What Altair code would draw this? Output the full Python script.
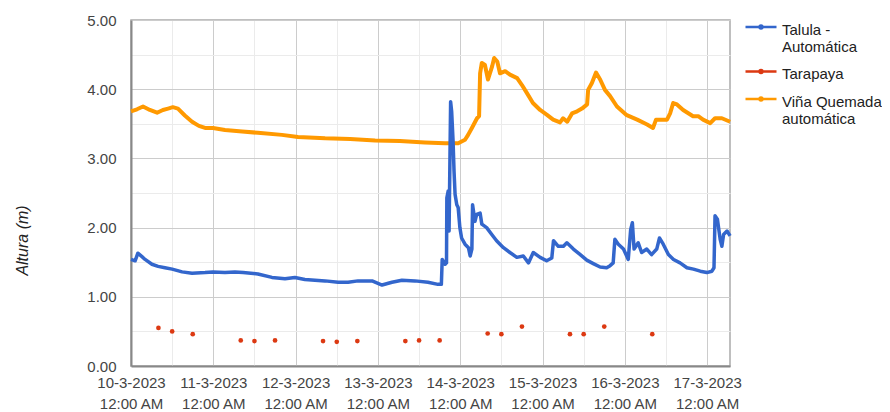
import altair as alt
import pandas as pd

base = pd.Timestamp("2023-03-10 00:00")

series_names = ["Talula - Automática", "Tarapaya", "Viña Quemada automática"]
series_colors = ["#3366cc", "#dc3912", "#ff9900"]

# hours after 10-3-2023 00:00
talula_h = [0, 1.2, 2.0, 3.2, 4.1, 6.1, 7.9, 9.9, 12.0, 14.9,
            17.8, 21.6, 23.9, 27.4, 30.3, 32.7, 37.0, 41.1, 44.9, 47.8,
            50.7, 56.6, 60.4, 63.3, 66.2, 70.3, 73.2, 76.1, 79.0, 82.8,
            86.6, 89.5, 90.5, 90.75, 91.6, 92.0, 92.1, 92.5, 92.75, 93.2,
            93.5, 93.9, 94.2, 94.5, 95.0, 95.4, 95.9, 96.4, 97.4, 98.4,
            98.9, 99.4, 99.6, 100.3, 100.8, 101.8, 102.3, 103.7, 105.2, 106.6,
            108.6, 110.5, 112.5, 114.4, 115.9, 117.3, 119.3, 121.2, 122.7, 123.2,
            124.6, 126.1, 127.1, 129.0, 131.0, 132.9, 134.8, 136.8, 138.7, 139.7,
            140.6, 141.1, 142.1, 143.6, 145.0, 145.7, 146.2, 146.7, 147.9, 148.9,
            150.4, 151.8, 153.3, 154.1, 155.2, 156.7, 158.2, 160.1, 162.1, 164.0,
            166.0, 167.9, 169.4, 170.0, 170.3, 171.0, 171.8, 172.3, 172.8, 173.8, 174.7]
talula_v = [1.54, 1.52, 1.63, 1.58, 1.54, 1.47, 1.44, 1.42, 1.40, 1.36,
            1.34, 1.35, 1.36, 1.35, 1.36, 1.35, 1.33, 1.28, 1.26, 1.28,
            1.25, 1.23, 1.21, 1.21, 1.23, 1.23, 1.17, 1.21, 1.24, 1.23,
            1.21, 1.18, 1.18, 1.54, 1.47, 1.49, 2.43, 2.53, 1.95, 3.82,
            3.68, 3.27, 2.81, 2.48, 2.33, 2.29, 2.00, 1.85, 1.76, 1.71,
            1.59, 1.69, 2.33, 2.09, 2.19, 2.21, 2.05, 2.00, 1.90, 1.81,
            1.71, 1.64, 1.57, 1.59, 1.49, 1.64, 1.57, 1.52, 1.56, 1.81,
            1.73, 1.73, 1.78, 1.69, 1.61, 1.53, 1.48, 1.43, 1.42, 1.45,
            1.49, 1.83, 1.76, 1.69, 1.54, 1.97, 2.07, 1.69, 1.78, 1.64,
            1.69, 1.61, 1.69, 1.85, 1.76, 1.61, 1.54, 1.49, 1.42, 1.40,
            1.37, 1.35, 1.37, 1.42, 2.17, 2.12, 1.83, 1.73, 1.90, 1.95, 1.88]

vina_h = [0, 1.75, 3.5, 5.5, 7.6, 9.3, 10.8, 12.2, 13.7, 15.7,
          17.8, 19.8, 21.6, 23.9, 27.4, 32.4, 37, 44, 48.7, 56.6,
          63.9, 71.2, 78.4, 85.7, 91.6, 95.4, 97.4, 98.3, 99.4, 100.9,
          101.5, 101.8, 102.3, 103.2, 104.1, 105.3, 105.9, 106.8, 107.6, 109.1,
          110.5, 112.6, 114, 115.5, 117.2, 119.3, 121.3, 123.1, 125.1, 126,
          127.2, 128.6, 130.1, 131.5, 133, 133.3, 134.4, 135.6, 136.8, 138.2,
          139.7, 141.7, 144.4, 147.6, 150.5, 152.2, 153.1, 156.3, 157.2, 158.1,
          159.2, 161, 163.9, 165.4, 166.8, 168.9, 170.3, 172.3, 174.7]
vina_v = [3.68, 3.71, 3.75, 3.70, 3.66, 3.70, 3.72, 3.74, 3.72, 3.62,
          3.53, 3.47, 3.44, 3.44, 3.41, 3.39, 3.37, 3.34, 3.31, 3.29,
          3.28, 3.26, 3.25, 3.23, 3.22, 3.22, 3.27, 3.34, 3.44, 3.58,
          3.61, 4.23, 4.38, 4.35, 4.14, 4.33, 4.45, 4.40, 4.23, 4.26,
          4.21, 4.16, 4.06, 3.94, 3.80, 3.70, 3.63, 3.56, 3.52, 3.58,
          3.53, 3.65, 3.68, 3.72, 3.78, 3.99, 4.09, 4.24, 4.14, 3.99,
          3.90, 3.75, 3.63, 3.56, 3.49, 3.44, 3.56, 3.56, 3.65, 3.80,
          3.78, 3.70, 3.61, 3.61, 3.56, 3.51, 3.58, 3.58, 3.53]

tara_h = [8, 12, 18, 32, 36, 42, 56, 60, 66, 80, 84, 90, 104, 108, 114, 128, 132, 138, 152]
tara_v = [0.55, 0.50, 0.46, 0.37, 0.36, 0.37, 0.36, 0.35, 0.36, 0.36, 0.37, 0.37,
          0.47, 0.46, 0.57, 0.46, 0.46, 0.57, 0.46]

y_ticks = [0, 0.5, 1, 1.5, 2, 2.5, 3, 3.5, 4, 4.5, 5]


def frame(hours, values, name):
    return pd.DataFrame({
        "t": [base + pd.Timedelta(hours=h) for h in hours],
        "v": values,
        "s": name,
    })


df_talula = frame(talula_h, talula_v, series_names[0])
df_tara = frame(tara_h, tara_v, series_names[1])
df_vina = frame(vina_h, vina_v, series_names[2])

FONT = "Liberation Sans"

x_values = [alt.DateTime(year=2023, month=3, date=d, hours=hh)
            for d in range(10, 18) for hh in (0, 12)][:-1]

x_enc = alt.X(
    "t:T",
    scale=alt.Scale(domain=[alt.DateTime(year=2023, month=3, date=10, hours=0),
                            alt.DateTime(year=2023, month=3, date=17, hours=6, minutes=40)]),
    axis=alt.Axis(
        title=None,
        values=x_values,
        labelExpr="hours(datum.value) == 0 ? [timeFormat(datum.value, '%-d-%-m-%Y'), '12:00 AM'] : ''",
        gridColor={"condition": {"test": "hours(datum.value) == 0", "value": "#cccccc"}, "value": "#ebebeb"},
        ticks=False,
        labelPadding=9,
        labelFontSize=15,
        labelLineHeight=21,
        labelColor="#444444",
        labelFlush=False,
        labelOverlap=False,
        domainColor="#888888",
        domainWidth=2,
    ),
)

y_enc = alt.Y(
    "v:Q",
    scale=alt.Scale(domain=[0, 5], nice=False),
    axis=alt.Axis(
        title="Altura (m)",
        values=y_ticks,
        labelExpr="datum.value % 1 == 0 ? format(datum.value, '.2f') : ''",
        gridColor={"condition": {"test": "datum.value % 1 == 0", "value": "#cccccc"}, "value": "#ebebeb"},
        ticks=False,
        labelPadding=15,
        labelFontSize=15,
        labelColor="#444444",
        labelFlush=False,
        labelOverlap=False,
        domainColor="#888888",
        domainWidth=2,
        titleFontSize=16,
        titleFontStyle="italic",
        titleFontWeight="normal",
        titleColor="#222222",
        titleX=-109,
        titleY=220,
        titleBaseline="middle",
    ),
)

color_scale = alt.Scale(domain=series_names, range=series_colors)

# small nominal symbol size (scale factor 4 px per path unit); the path itself
# draws a 31px line with a dot, placed right of the anchor and level with the first text line
legend_symbol = ("M-1,1.125L6.75,1.125"
                 "M2.5,1.125A0.375,0.375,0,1,0,3.25,1.125A0.375,0.375,0,1,0,2.5,1.125")

legend = alt.Legend(
    title=None,
    orient="none",
    legendX=611,
    legendY=-5,
    symbolType=legend_symbol,
    symbolStrokeWidth=2.5,
    symbolSize=64,
    labelFontSize=15,
    labelFont=FONT,
    labelColor="#222222",
    labelLimit=300,
    labelBaseline="top",
    labelOffset=25,
    rowPadding=4.5,
    labelExpr="datum.label == 'Talula - Automática' ? ['Talula -', 'Automática'] : datum.label == 'Viña Quemada automática' ? ['Viña Quemada', 'automática'] : datum.label",
)

vina_layer = alt.Chart(df_vina).mark_line(strokeWidth=4, strokeJoin="round").encode(
    x=x_enc, y=y_enc, color=alt.Color("s:N", scale=color_scale, legend=legend)
)
talula_layer = alt.Chart(df_talula).mark_line(strokeWidth=3.5, strokeJoin="round").encode(
    x=x_enc, y=y_enc, color=alt.Color("s:N", scale=color_scale, legend=legend)
)
tara_layer = alt.Chart(df_tara).mark_point(filled=True, size=22, opacity=1).encode(
    x=x_enc, y=y_enc, color=alt.Color("s:N", scale=color_scale, legend=legend)
)

chart = alt.layer(vina_layer, talula_layer, tara_layer).properties(
    width=599,
    height=346,
    padding={"left": 123, "top": 12, "right": 152, "bottom": 46},
    autosize=alt.AutoSizeParams(type="none"),
    background="white",
).configure_view(
    stroke="#aaaaaa", strokeWidth=1.5
).configure_axis(
    labelFont=FONT, titleFont=FONT
).configure_legend(
    labelFont=FONT
)

chart.save("out.html", embed_options={"renderer": "svg", "actions": False})
